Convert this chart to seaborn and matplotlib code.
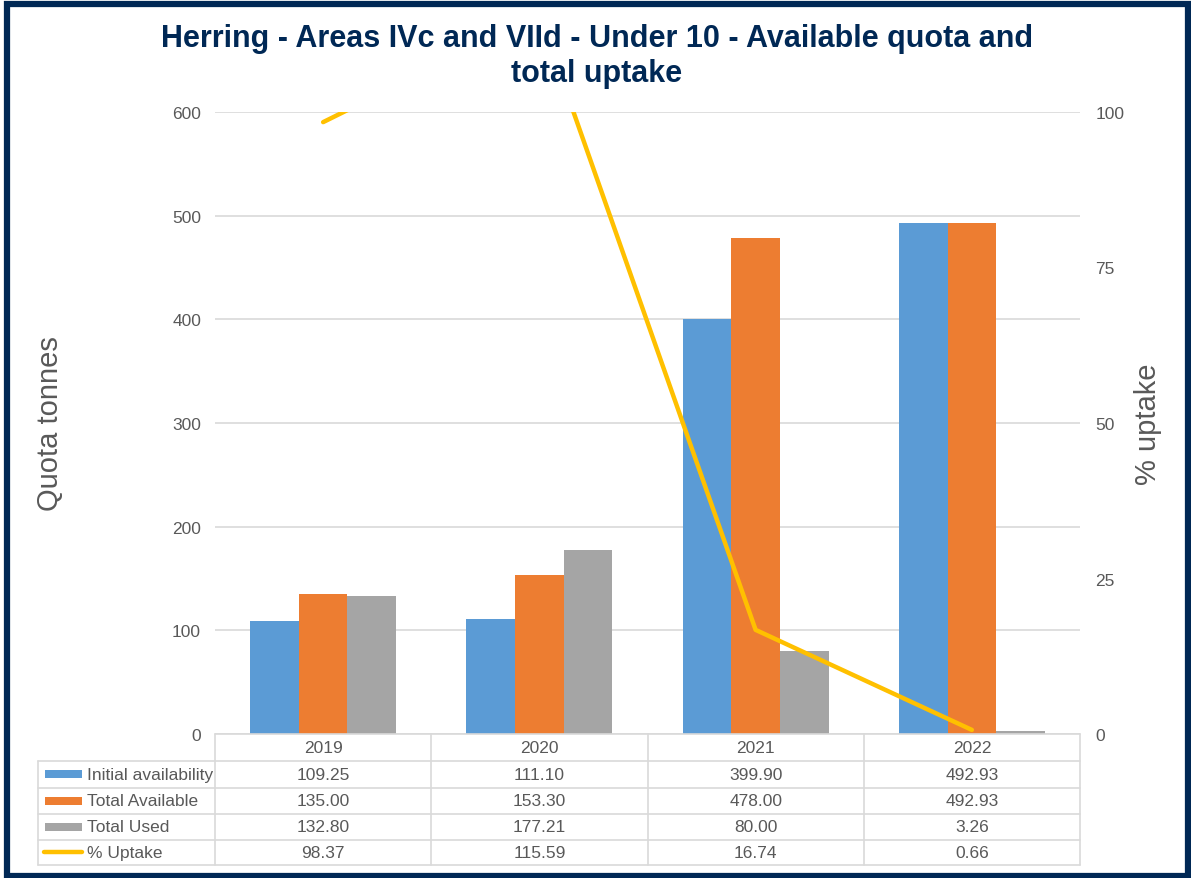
import numpy as np
import pandas as pd
import matplotlib
matplotlib.use("Agg")
import matplotlib.pyplot as plt
import matplotlib.transforms as mtransforms
from matplotlib.patches import Rectangle
from matplotlib.lines import Line2D
import seaborn as sns

# ---------------- data ----------------
years = ["2019", "2020", "2021", "2022"]
initial_availability = [109.25, 111.10, 399.90, 492.93]
total_available = [135.00, 153.30, 478.00, 492.93]
total_used = [132.80, 177.21, 80.00, 3.26]
pct_uptake = [98.37, 115.59, 16.74, 0.66]
series_names = ["Initial availability", "Total Available", "Total Used"]
line_name = "% Uptake"
left_ticks = [0, 100, 200, 300, 400, 500, 600]
right_ticks = [0, 25, 50, 75, 100]

title_lines = ["Herring - Areas IVc and VIId - Under 10 - Available quota and",
               "total uptake"]

bar_colors = ["#5B9BD5", "#ED7D31", "#A5A5A5"]
line_color = "#FFC000"
navy = "#002855"
grey_txt = "#595959"
grid_col = "#D9D9D9"

df = pd.DataFrame({
    "year": years * 3,
    "value": initial_availability + total_available + total_used,
    "series": [series_names[0]] * 4 + [series_names[1]] * 4 + [series_names[2]] * 4,
})

sns.set_theme(style="white")
plt.rcParams["font.family"] = ["Liberation Sans", "DejaVu Sans"]

W, H = 1191, 879
fig = plt.figure(figsize=(W / 100, H / 100), dpi=100)
fig.patch.set_facecolor("white")

def fx(px):
    return px / W

def fy(py):
    return 1 - py / H

ax_l, ax_r, ax_t, ax_b = 215, 1080, 113, 735
ax = fig.add_axes([fx(ax_l), fy(ax_b), fx(ax_r - ax_l), (ax_b - ax_t) / H])

sns.barplot(data=df, x="year", y="value", hue="series", hue_order=series_names,
            order=years, palette=bar_colors, saturation=1, width=0.675,
            ax=ax, legend=False, edgecolor="none", linewidth=0)
ax.set_xlim(-0.5, len(years) - 0.5)
ax.set_ylim(0, 600)
ax.set_yticks(left_ticks)
ax.yaxis.grid(True, color=grid_col, linewidth=1.2)
ax.set_axisbelow(True)
ax.set_xticks([])
ax.set_xlabel("")
ax.set_ylabel("")
for s in ax.spines.values():
    s.set_visible(False)
ax.tick_params(axis="y", length=0, pad=10, labelsize=12.5, labelcolor=grey_txt)

ax2 = ax.twinx()
sns.lineplot(x=np.arange(len(years)), y=pct_uptake, ax=ax2, color=line_color,
             linewidth=3.2, legend=False)
ax2.set_ylim(0, 100)
ax2.set_yticks(right_ticks)
ax2.set_ylabel("")
for s in ax2.spines.values():
    s.set_visible(False)
ax2.tick_params(axis="y", length=0, pad=11, labelsize=12.5, labelcolor=grey_txt)
ax2.set_xlim(-0.5, len(years) - 0.5)

# axis labels
fig.text(fx(50), fy(424), "Quota tonnes", rotation=90, ha="center", va="center",
         fontsize=21, color=grey_txt)
fig.text(fx(1148), fy(424), "% uptake", rotation=90, ha="center", va="center",
         fontsize=21, color=grey_txt)

# title
for txt, ypx in zip(title_lines, [39, 74]):
    fig.text(fx(597), fy(ypx), txt, ha="center", va="center", fontsize=22,
             fontweight="bold", color=navy)

# ---------------- data table ----------------
tb = mtransforms.blended_transform_factory(ax.transData, fig.transFigure)
rows_y = [735, 762, 788.5, 814.5, 840.5, 866]
leg_left = 38
lw_t = 1.2
fig.add_artist(Line2D([fx(ax_l), fx(ax_r)], [fy(rows_y[0])] * 2, color=grid_col, lw=lw_t))
for yv in rows_y[1:]:
    fig.add_artist(Line2D([fx(leg_left), fx(ax_r)], [fy(yv)] * 2, color=grid_col, lw=lw_t))
fig.add_artist(Line2D([fx(leg_left)] * 2, [fy(rows_y[1]), fy(rows_y[-1])], color=grid_col, lw=lw_t))
for i in range(len(years) + 1):
    xb = i - 0.5
    fig.add_artist(Line2D([xb, xb], [fy(rows_y[0]), fy(rows_y[-1])], color=grid_col,
                          lw=lw_t, transform=tb))

def row_center(r):
    return fy((rows_y[r] + rows_y[r + 1]) / 2)

for i, yr in enumerate(years):
    fig.text(i, row_center(0), yr, transform=tb, ha="center", va="center",
             fontsize=12.5, color=grey_txt)

table_series = [initial_availability, total_available, total_used, pct_uptake]
table_names = series_names + [line_name]
for r, (name, vals) in enumerate(zip(table_names, table_series)):
    yc = row_center(r + 1)
    if r < 3:
        fig.add_artist(Rectangle((fx(45), yc - 4 / H), fx(37), 8 / H,
                                 facecolor=bar_colors[r], edgecolor="none",
                                 transform=fig.transFigure))
    else:
        fig.add_artist(Line2D([fx(44), fx(82)], [yc, yc], color=line_color, lw=3.2,
                              solid_capstyle="round"))
    fig.text(fx(87), yc, name, ha="left", va="center", fontsize=12.5, color=grey_txt)
    for i, v in enumerate(vals):
        fig.text(i, yc, f"{v:.2f}", transform=tb, ha="center", va="center",
                 fontsize=12.5, color=grey_txt)

fig.add_artist(Rectangle((fx(6.5), fy(876.5)), fx(1188 - 6.5), (876.5 - 5) / H,
                         facecolor="none", edgecolor=navy, linewidth=4.5,
                         transform=fig.transFigure))

fig.savefig("out.png", dpi=100)
